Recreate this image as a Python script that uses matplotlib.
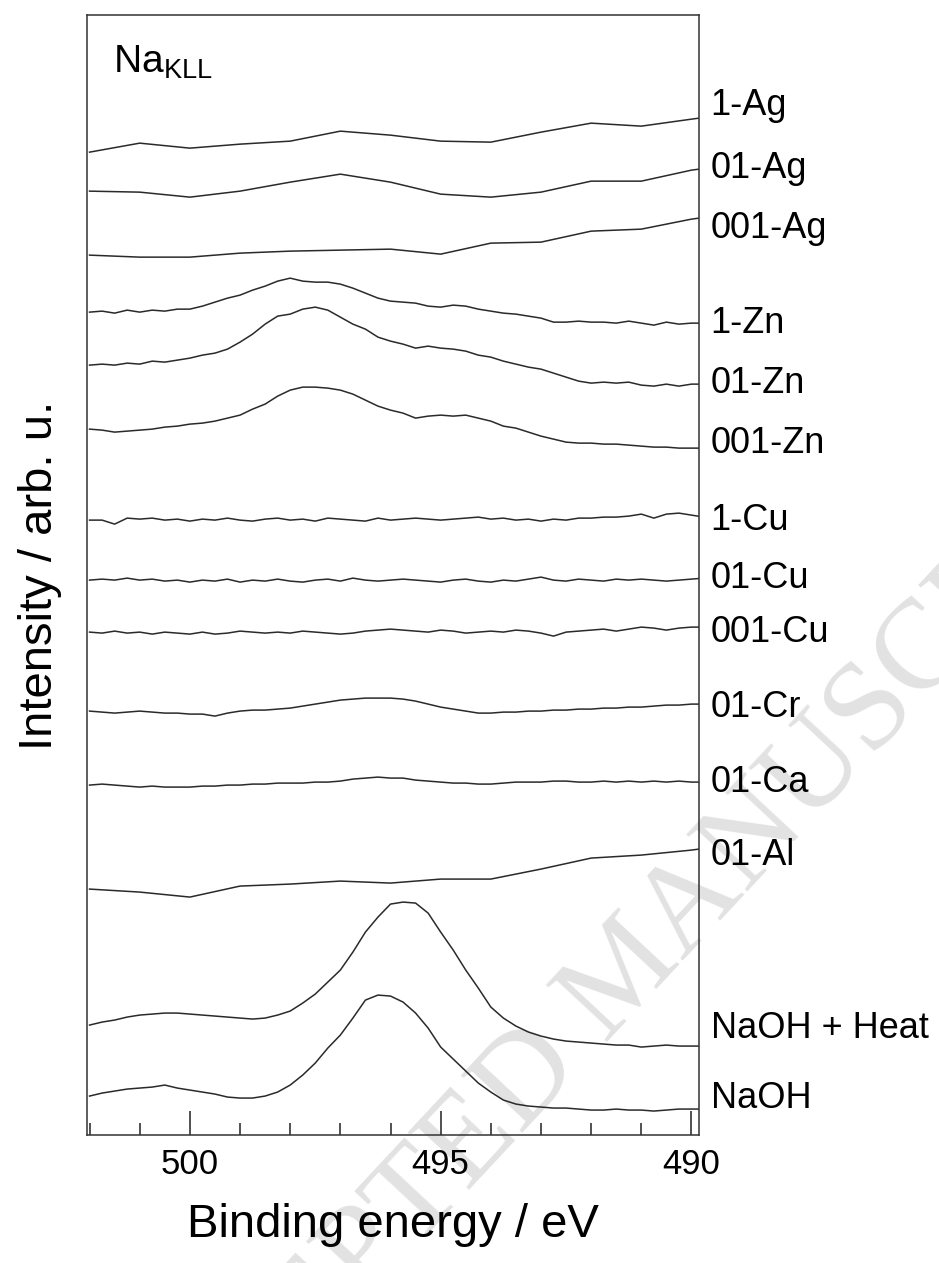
"""
Na KLL Auger region for the doped samples, stacked spectra.
"""
import numpy as np
import matplotlib
matplotlib.use("Agg")
import matplotlib.pyplot as plt
from matplotlib.ticker import MultipleLocator
import matplotlib.transforms as mtransforms

plt.rcParams['font.family'] = ['Liberation Sans', 'DejaVu Sans']
plt.rcParams['mathtext.fontset'] = 'custom'
plt.rcParams['mathtext.rm'] = 'Liberation Sans'

# energy axes (eV): coarse for the smooth scans, 0.25 eV grid for the noisy ones
energy_coarse = [502, 501, 500, 499, 498, 497, 496, 495, 494, 493, 492, 491, 490, 489.85]
energy_fine = np.arange(502.0, 489.74, -0.25)

# stacked intensities (arb. u., offsets already included)
ag_1 = [983, 992, 987, 991, 994, 1004, 1000, 994, 993, 1003, 1012, 1009, 1016, 1017]
ag_01 = [944, 943, 938, 944, 953, 961, 953, 941, 938, 943, 954, 954, 965, 966]
ag_001 = [880, 878, 878, 882, 884, 885, 886, 881, 892, 893, 904, 906, 916, 917]
al_01 = [246, 243, 238, 249, 251, 254, 252, 256, 256, 266, 277, 280, 285, 286]

zn_1 = [823, 824, 822, 825, 823, 825, 824, 826, 826, 829, 833, 837, 840, 845, 849, 854, 857,
        854, 853, 853, 851, 847, 842, 837, 834, 833, 832, 829, 828, 830, 829, 826, 824, 822,
        821, 819, 817, 813, 813, 814, 813, 813, 812, 814, 812, 810, 813, 811, 812, 812]
zn_01 = [770, 771, 770, 772, 771, 774, 773, 775, 777, 780, 782, 786, 793, 801, 811, 819, 821,
         826, 828, 825, 818, 811, 806, 798, 794, 791, 787, 789, 787, 786, 784, 780, 778, 774,
         771, 768, 766, 762, 758, 754, 752, 753, 752, 753, 750, 749, 751, 749, 751, 751]
zn_001 = [706, 705, 703, 704, 705, 706, 708, 709, 711, 712, 714, 717, 720, 726, 731, 739, 745,
          748, 748, 747, 745, 741, 735, 729, 725, 722, 717, 719, 720, 719, 720, 717, 714, 709,
          707, 703, 699, 696, 693, 692, 692, 691, 691, 690, 689, 688, 688, 687, 687, 687]
cu_1 = [615, 615, 611, 617, 616, 617, 615, 616, 614, 616, 615, 617, 615, 614, 616, 617, 615,
        616, 614, 617, 616, 615, 614, 617, 615, 616, 617, 616, 615, 616, 617, 618, 616, 617,
        615, 616, 614, 616, 615, 617, 617, 618, 618, 619, 621, 617, 621, 622, 620, 618]
cu_01 = [555, 556, 555, 557, 555, 556, 554, 555, 553, 555, 554, 556, 553, 555, 554, 556, 554,
         553, 555, 556, 554, 557, 555, 554, 555, 556, 555, 554, 553, 555, 556, 554, 553, 555,
         554, 556, 558, 555, 554, 556, 555, 554, 556, 555, 556, 555, 554, 555, 556, 557]
cu_001 = [503, 502, 504, 502, 503, 501, 503, 502, 501, 503, 501, 502, 504, 503, 502, 503, 502,
          504, 503, 502, 501, 502, 504, 505, 506, 505, 504, 503, 505, 504, 502, 503, 504, 503,
          505, 504, 502, 499, 503, 504, 505, 506, 504, 506, 508, 507, 505, 507, 508, 508]
cr_01 = [424, 423, 422, 423, 424, 423, 422, 422, 421, 421, 419, 422, 424, 425, 425, 426, 427,
         429, 431, 433, 435, 436, 437, 437, 437, 436, 434, 431, 428, 426, 424, 422, 422, 423,
         423, 424, 424, 425, 425, 426, 426, 427, 427, 428, 428, 429, 430, 430, 431, 431]
ca_01 = [350, 351, 350, 349, 348, 349, 348, 348, 348, 349, 349, 350, 350, 351, 351, 352, 352,
         352, 353, 353, 354, 356, 357, 358, 357, 357, 355, 354, 353, 352, 352, 351, 351, 352,
         353, 353, 353, 354, 354, 353, 353, 354, 353, 354, 353, 354, 353, 354, 353, 353]
naoh_heat = [110, 113, 115, 118, 120, 121, 122, 122, 121, 120, 119, 118, 117, 116, 117, 120, 124,
             132, 141, 153, 165, 183, 203, 218, 231, 233, 232, 222, 203, 185, 165, 147, 128, 117,
             109, 103, 99, 96, 94, 93, 92, 91, 90, 90, 88, 89, 90, 89, 89, 89]
naoh = [39, 42, 44, 46, 47, 48, 50, 47, 45, 43, 41, 38, 37, 37, 39, 43, 50, 60, 72, 87, 100,
        117, 135, 140, 139, 133, 122, 107, 88, 76, 64, 52, 43, 35, 31, 29, 28, 27, 27, 26, 25,
        25, 26, 25, 25, 24, 25, 26, 26, 26]

sample_names = ['1-Ag', '01-Ag', '001-Ag', '1-Zn', '01-Zn', '001-Zn', '1-Cu', '01-Cu',
                '001-Cu', '01-Cr', '01-Ca', '01-Al', 'NaOH + Heat', 'NaOH']
spectra = [ag_1, ag_01, ag_001, zn_1, zn_01, zn_001, cu_1, cu_01,
           cu_001, cr_01, ca_01, al_01, naoh_heat, naoh]
# where each name sits on the intensity axis
label_levels = [1030, 967, 907, 812, 752, 692, 615, 557, 503, 428, 353, 280, 107, 37]

fig = plt.figure(figsize=(9.39, 12.63), dpi=100)
ax = fig.add_axes([0.0927, 0.1013, 0.6517, 0.8867])
ax.set_facecolor('none')

# faint watermark of the source page, drawn beneath the plot
fig.text(0.668, 1 - 975 / 1263, 'ACCEPTED MANUSCRIPT', family='Liberation Serif',
         fontsize=92, color='#e2e2e2', rotation=47, ha='center', va='center',
         rotation_mode='anchor', zorder=-1)

for name, y in zip(sample_names, spectra):
    x = energy_coarse if len(y) == len(energy_coarse) else energy_fine
    ax.plot(x, y, color='#2a2a2a', lw=1.1)

trans = mtransforms.blended_transform_factory(ax.transAxes, ax.transData)
for name, lev in zip(sample_names, label_levels):
    ax.text(1.019, lev, name, transform=trans, fontsize=26, va='center', ha='left')

ax.text(0.043, 0.958, r'Na$_{\mathrm{KLL}}$', transform=ax.transAxes, fontsize=28,
        va='center', ha='left')

ax.set_xlim(502.05, 489.85)
ax.set_ylim(0, 1120)
ax.xaxis.set_major_locator(MultipleLocator(5))
ax.xaxis.set_minor_locator(MultipleLocator(1))
ax.set_yticks([])
ax.tick_params(axis='x', which='major', direction='in', length=17, width=1.1,
               labelsize=25, pad=9, color='#222')
ax.tick_params(axis='x', which='minor', direction='in', length=8.5, width=1.1, color='#222')
for sp in ax.spines.values():
    sp.set_linewidth(1.1)
    sp.set_color('#333')

ax.set_xlabel('Binding energy / eV', fontsize=34, labelpad=16)
ax.set_ylabel('Intensity / arb. u.', fontsize=34, labelpad=18)

fig.savefig('out.png', dpi=100)
